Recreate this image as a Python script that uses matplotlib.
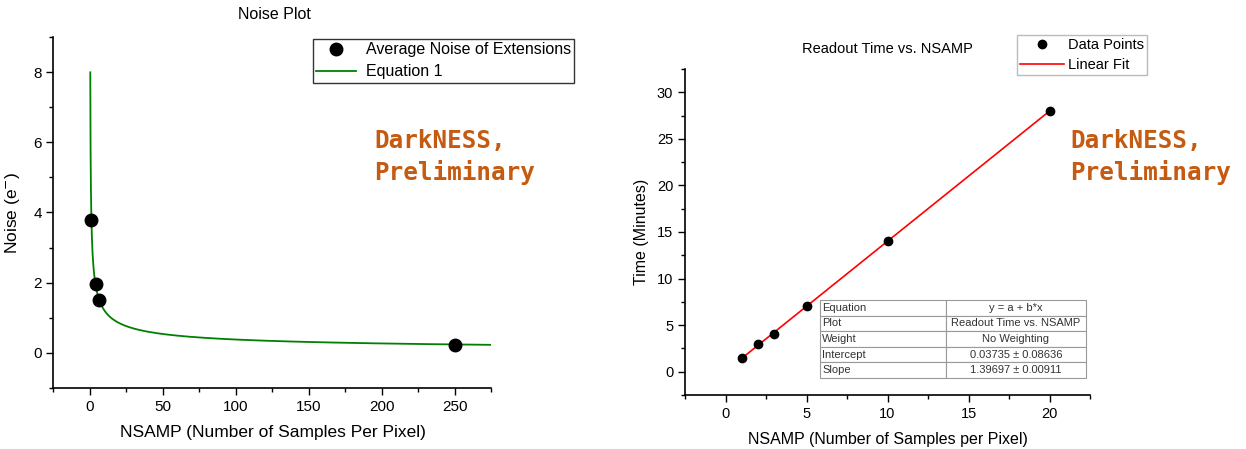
import numpy as np
import matplotlib
matplotlib.use("Agg")
import matplotlib.pyplot as plt
from matplotlib.ticker import MultipleLocator

plt.rcParams['font.family'] = ['Liberation Sans', 'DejaVu Sans']

# ---- data: noise plot ----
noise_nsamp = [1, 4, 6, 250]
noise_vals = [3.8, 1.97, 1.52, 0.23]
fit_sigma = 3.8          # Equation 1: noise = sigma / sqrt(NSAMP)
fit_x_start = 0.226
fit_x_end = 275

# ---- data: readout time ----
rt_nsamp = [1, 2, 3, 5, 10, 20]
rt_time = [1.5, 3, 4, 7, 14, 28]
lin_a = 0.03735
lin_b = 1.39697
table_rows = [["Equation", "y = a + b*x"],
              ["Plot", "Readout Time vs. NSAMP"],
              ["Weight", "No Weighting"],
              ["Intercept", "0.03735 \u00b1 0.08636"],
              ["Slope", "1.39697 \u00b1 0.00911"]]

orange = '#C55A11'

fig = plt.figure(figsize=(12.46, 4.49), dpi=100)

def style_axes(ax):
    for s in ['top', 'right']:
        ax.spines[s].set_visible(False)
    for s in ['left', 'bottom']:
        ax.spines[s].set_linewidth(1.2)
    ax.tick_params(which='both', direction='out', width=1.0)
    ax.tick_params(which='major', length=5)
    ax.tick_params(which='minor', length=3)

# ---------------- left chart ----------------
ax1 = fig.add_axes([0.0429, 0.1359, 0.3515, 0.7817])
style_axes(ax1)
xc = np.geomspace(fit_x_start, fit_x_end, 600)
ax1.plot(noise_nsamp, noise_vals, 'o', color='black', markersize=9, label='Average Noise of Extensions', zorder=3)
ax1.plot(xc, fit_sigma / np.sqrt(xc), color='#008000', lw=1.3, label='Equation 1')
ax1.set_xlim(-25, 275)
ax1.set_ylim(-1, 9)
ax1.xaxis.set_major_locator(MultipleLocator(50))
ax1.xaxis.set_minor_locator(MultipleLocator(25))
ax1.yaxis.set_major_locator(MultipleLocator(2))
ax1.yaxis.set_minor_locator(MultipleLocator(1))
ax1.tick_params(labelsize=11)
ax1.set_xlabel('NSAMP (Number of Samples Per Pixel)', fontsize=12.5, labelpad=8)
ax1.set_ylabel('Noise (e$^{-}$)', fontsize=12.5, labelpad=8)
ax1.set_title('Noise Plot', fontsize=11.5, pad=13, x=0.505)
leg1 = ax1.legend(loc='upper left', bbox_to_anchor=(313/1246, 1-39/449), bbox_transform=fig.transFigure,
                  fontsize=11.5, frameon=True, fancybox=False, borderpad=0.2, handlelength=2.5,
                  labelspacing=0.45, borderaxespad=0, handletextpad=0.6)
leg1.get_frame().set_edgecolor('black')
leg1.get_frame().set_linewidth(1.0)
fig.text(374/1246, 1-157/449, 'DarkNESS,\nPreliminary', color=orange, fontsize=17.5,
         family='DejaVu Sans Mono', fontweight='bold', va='center', ha='left', linespacing=1.35)

# ---------------- right chart ----------------
ax2 = fig.add_axes([0.5498, 0.1203, 0.3250, 0.7261])
style_axes(ax2)
xl = np.array([min(rt_nsamp), max(rt_nsamp)])
ax2.plot(rt_nsamp, rt_time, 'o', color='black', markersize=6, label='Data Points', zorder=3)
ax2.plot(xl, lin_a + lin_b * xl, color='#FF0000', lw=1.2, label='Linear Fit')
ax2.set_xlim(-2.5, 22.5)
ax2.set_ylim(-2.5, 32.5)
ax2.xaxis.set_major_locator(MultipleLocator(5))
ax2.xaxis.set_minor_locator(MultipleLocator(2.5))
ax2.yaxis.set_major_locator(MultipleLocator(5))
ax2.yaxis.set_minor_locator(MultipleLocator(2.5))
ax2.tick_params(labelsize=10.5)
ax2.set_xlabel('NSAMP (Number of Samples per Pixel)', fontsize=11.5, labelpad=8)
ax2.set_ylabel('Time (Minutes)', fontsize=11.5, labelpad=6)
fig.text(887/1246, 1-49/449, 'Readout Time vs. NSAMP', fontsize=10.5, ha='center', va='center')
leg2 = ax2.legend(loc='upper left', bbox_to_anchor=(1017/1246, 1-35/449), bbox_transform=fig.transFigure,
                  fontsize=10.5, frameon=True, fancybox=False, borderpad=0.2, handlelength=3.0,
                  labelspacing=0.4, borderaxespad=0, handletextpad=0.3, handleheight=0.7)
leg2.get_frame().set_edgecolor('#aaaaaa')
leg2.get_frame().set_linewidth(1.0)

tbl = ax2.table(cellText=table_rows, colWidths=[0.474, 0.526], cellLoc='center',
                bbox=[0.333, 0.052, 0.657, 0.239])
tbl.auto_set_font_size(False)
for (r, c), cell in tbl.get_celld().items():
    cell.set_edgecolor('#999999')
    cell.set_linewidth(0.8)
    cell.get_text().set_fontsize(8)
    cell.get_text().set_color('#333333')
    if c == 0:
        cell.get_text().set_ha('left')
        cell._loc = 'left'
        cell.PAD = 0.02

fig.text(1070/1246, 1-157/449, 'DarkNESS,\nPreliminary', color=orange, fontsize=17.5,
         family='DejaVu Sans Mono', fontweight='bold', va='center', ha='left', linespacing=1.35)

fig.savefig('out.png', dpi=100)
